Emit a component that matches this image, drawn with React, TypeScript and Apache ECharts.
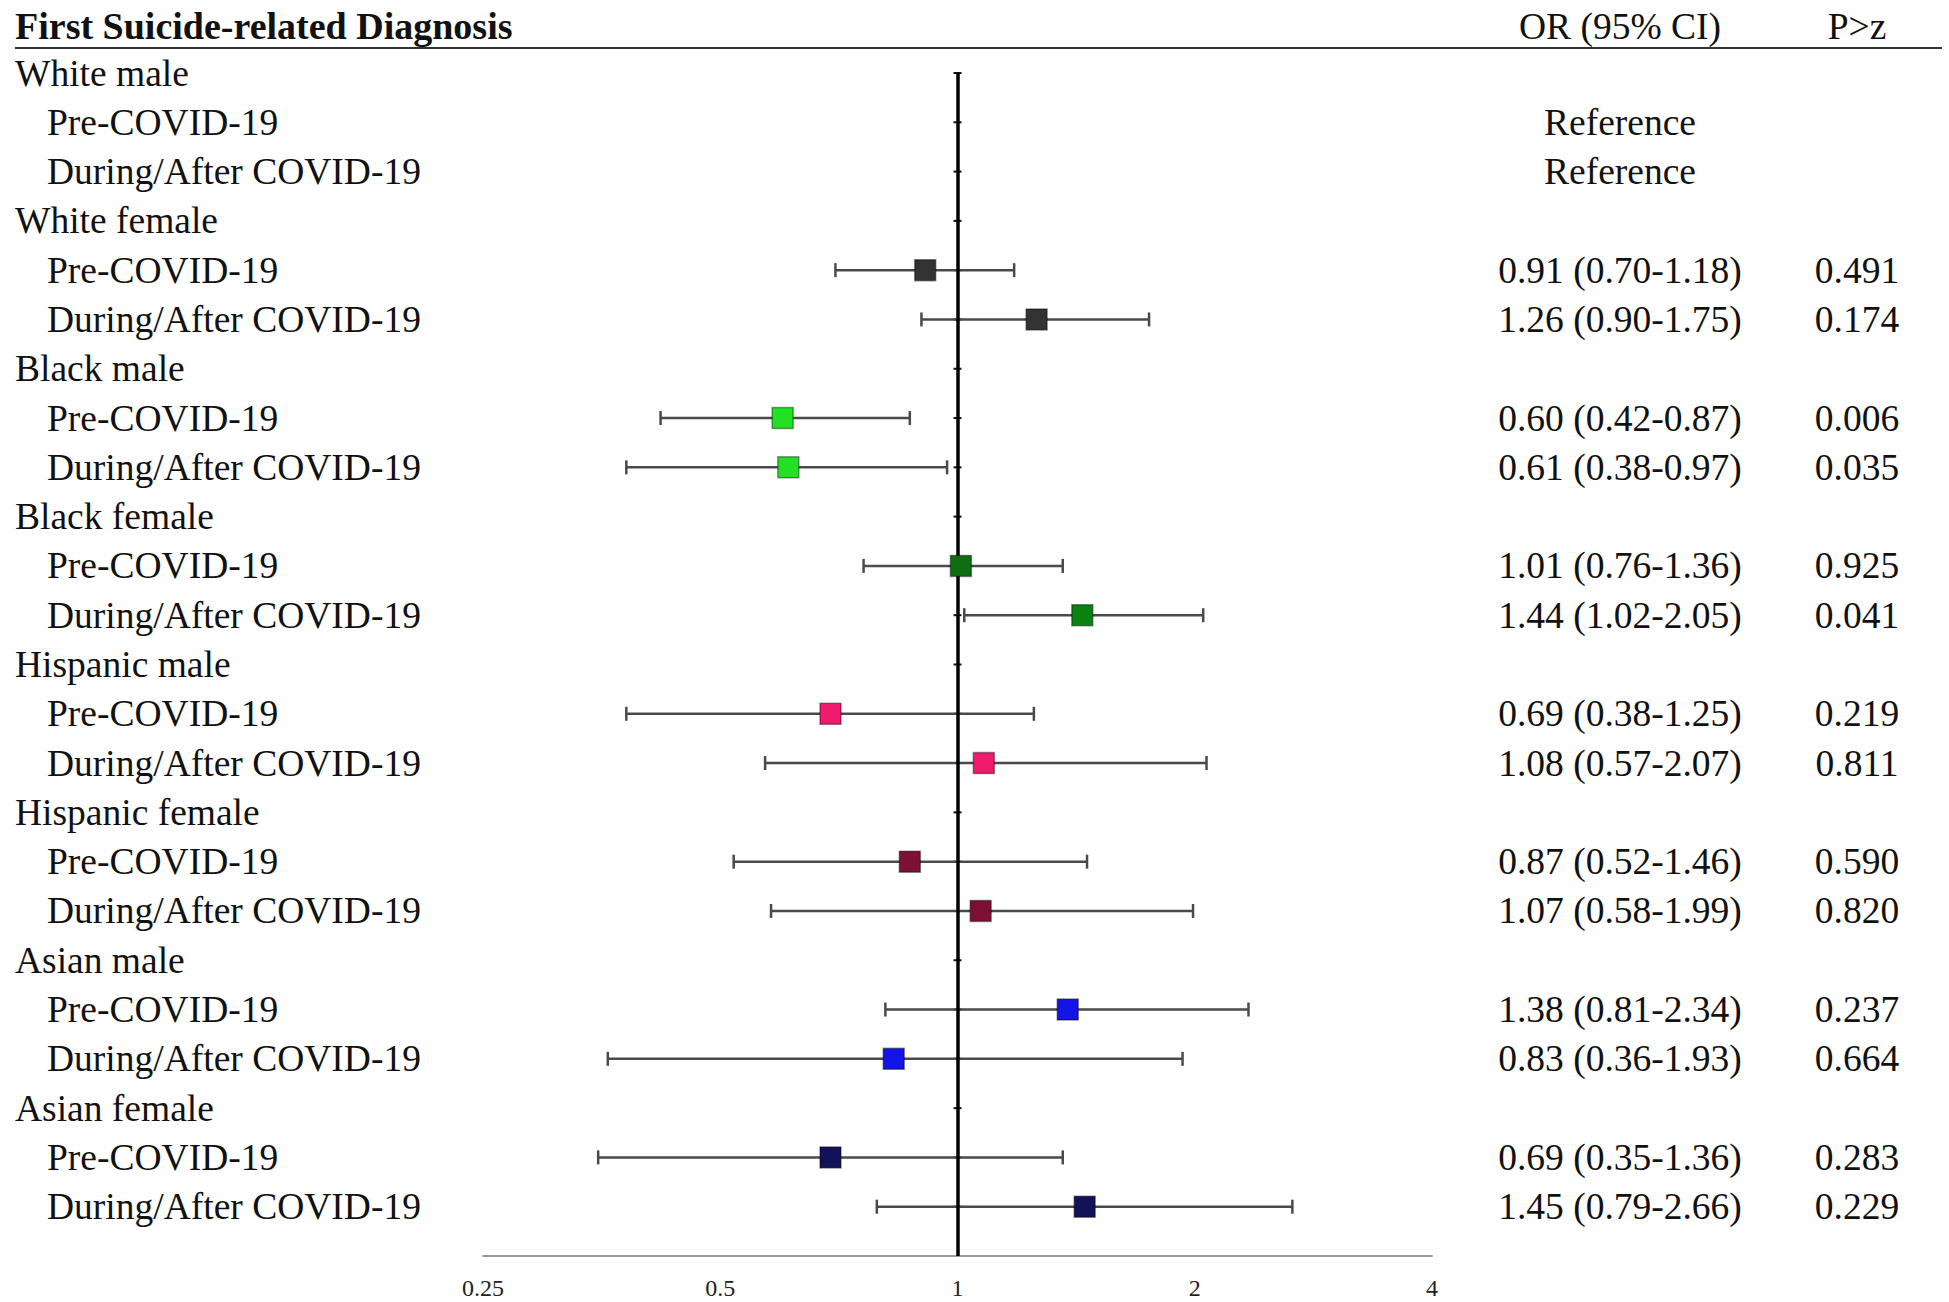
import React, { useEffect, useRef } from "react";
import * as echarts from "echarts";

const groups = [
  "White male",
  "White female",
  "Black male",
  "Black female",
  "Hispanic male",
  "Hispanic female",
  "Asian male",
  "Asian female",
];
const periods = ["Pre-COVID-19", "During/After COVID-19"];
// per group: [pre, during]; null = reference
const orValues = [null, null, 0.91, 1.26, 0.6, 0.61, 1.01, 1.44, 0.69, 1.08, 0.87, 1.07, 1.38, 0.83, 0.69, 1.45];
const ciLow = [null, null, 0.7, 0.9, 0.42, 0.38, 0.76, 1.02, 0.38, 0.57, 0.52, 0.58, 0.81, 0.36, 0.35, 0.79];
const ciHigh = [null, null, 1.18, 1.75, 0.87, 0.97, 1.36, 2.05, 1.25, 2.07, 1.46, 1.99, 2.34, 1.93, 1.36, 2.66];
const pValues = ["", "", "0.491", "0.174", "0.006", "0.035", "0.925", "0.041", "0.219", "0.811", "0.590", "0.820", "0.237", "0.664", "0.283", "0.229"];
const pointColors = [
  "#333333", "#333333",
  "#333333", "#333333",
  "#22e022", "#22e022",
  "#0f6e12", "#0a8212",
  "#f01a6e", "#f01a6e",
  "#7e1036", "#7e1036",
  "#1414e6", "#1414e6",
  "#12125a", "#12125a",
];
const xTicks = [0.25, 0.5, 1, 2, 4];

const FONT = "'Liberation Serif', 'Times New Roman', serif";

type Row = { group: string; sub: string; or: string; p: string; idx: number };

function buildRows(): Row[] {
  const rows: Row[] = [];
  groups.forEach((g, gi) => {
    rows.push({ group: g, sub: "", or: "", p: "", idx: -1 });
    periods.forEach((per, pi) => {
      const k = gi * 2 + pi;
      const o = orValues[k];
      const orText =
        o === null
          ? "Reference"
          : `${o.toFixed(2)} (${(ciLow[k] as number).toFixed(2)}-${(ciHigh[k] as number).toFixed(2)})`;
      rows.push({ group: "", sub: per, or: orText, p: pValues[k], idx: k });
    });
  });
  rows.push({ group: "", sub: "", or: "", p: "", idx: -1 });
  return rows;
}

export default function App() {
  const ref = useRef<HTMLDivElement>(null);
  useEffect(() => {
    if (!ref.current) return;
    const chart = echarts.init(ref.current, undefined, { renderer: "svg" });
    const rows = buildRows();
    const cats = rows.map((_, i) => String(i));

    const points: any[] = [];
    const bars: any[] = [];
    const ticks: any[] = [];
    rows.forEach((r, i) => {
      if (i < rows.length - 1) ticks.push([1, i]);
      if (r.idx >= 0 && orValues[r.idx] !== null) {
        points.push({ value: [orValues[r.idx], i], itemStyle: { color: pointColors[r.idx] } });
        bars.push([ciLow[r.idx], ciHigh[r.idx], i]);
      }
    });

    const gridLeft = 483;
    const gridRight = 1432;
    const labelStyle = { fontFamily: FONT, fontSize: 37.5, color: "#111" };
    const baseY = {
      type: "category",
      data: cats,
      inverse: true,
      boundaryGap: false,
      axisLine: { show: false },
      axisTick: { show: false },
      splitLine: { show: false },
    };

    chart.setOption({
      animation: false,
      backgroundColor: "#ffffff",
      grid: { left: gridLeft, right: 1949 - gridRight, top: 73, bottom: 1302 - 1256 },
      xAxis: {
        type: "log",
        logBase: 2,
        min: xTicks[0],
        max: xTicks[xTicks.length - 1],
        axisLine: { show: true, lineStyle: { color: "#9a9a9a", width: 2 } },
        axisTick: { show: false },
        splitLine: { show: false },
        minorTick: { show: false },
        axisLabel: {
          fontFamily: FONT,
          fontSize: 24,
          color: "#222",
          margin: 20,
          formatter: (v: number) => String(Math.round(v * 100) / 100),
        },
      },
      yAxis: [
        {
          ...baseY,
          position: "left",
          axisLabel: {
            ...labelStyle,
            interval: 0,
            align: "left",
            margin: gridLeft - 15,
            formatter: (_v: string, i: number) => rows[i].group,
          },
        },
        {
          ...baseY,
          position: "left",
          axisLabel: {
            ...labelStyle,
            interval: 0,
            align: "left",
            margin: gridLeft - 47,
            formatter: (_v: string, i: number) => rows[i].sub,
          },
        },
        {
          ...baseY,
          position: "right",
          axisLabel: {
            ...labelStyle,
            interval: 0,
            align: "center",
            margin: 1620 - gridRight,
            formatter: (_v: string, i: number) => rows[i].or,
          },
        },
        {
          ...baseY,
          position: "right",
          axisLabel: {
            ...labelStyle,
            interval: 0,
            align: "center",
            margin: 1857 - gridRight,
            formatter: (_v: string, i: number) => rows[i].p,
          },
        },
      ],
      graphic: [
        {
          type: "text",
          left: 15,
          top: 7,
          style: { text: "First Suicide-related Diagnosis", font: `bold 38px ${FONT}`, fill: "#111" },
        },
        {
          type: "text",
          x: 1620,
          y: 26,
          style: { text: "OR (95% CI)", font: `37.5px ${FONT}`, fill: "#111", textAlign: "center", textVerticalAlign: "middle" },
        },
        {
          type: "text",
          x: 1857,
          y: 26,
          style: { text: "P>z", font: `37.5px ${FONT}`, fill: "#111", textAlign: "center", textVerticalAlign: "middle" },
        },
        {
          type: "line",
          shape: { x1: 15, y1: 48, x2: 1942, y2: 48 },
          style: { stroke: "#333", lineWidth: 2 },
        },
      ],
      series: [
        {
          type: "scatter",
          yAxisIndex: 0,
          data: ticks,
          symbol: "rect",
          symbolSize: [8, 2],
          itemStyle: { color: "#111", opacity: 1 },
          z: 3,
          silent: true,
          markLine: {
            silent: true,
            symbol: "none",
            label: { show: false },
            lineStyle: { color: "#000", width: 3.5, type: "solid", opacity: 1 },
            data: [{ xAxis: 1 }],
          },
        },
        {
          type: "custom",
          yAxisIndex: 0,
          data: bars,
          encode: { x: [0, 1], y: 2 },
          z: 4,
          renderItem: (_params: any, api: any) => {
            const y = api.value(2);
            const a = api.coord([api.value(0), y]);
            const b = api.coord([api.value(1), y]);
            const h = 7;
            const st = { stroke: "#4a4a4a", lineWidth: 2.5 };
            return {
              type: "group",
              children: [
                { type: "line", shape: { x1: a[0], y1: a[1], x2: b[0], y2: b[1] }, style: st },
                { type: "line", shape: { x1: a[0], y1: a[1] - h, x2: a[0], y2: a[1] + h }, style: st },
                { type: "line", shape: { x1: b[0], y1: b[1] - h, x2: b[0], y2: b[1] + h }, style: st },
              ],
            };
          },
        },
        {
          type: "scatter",
          yAxisIndex: 0,
          data: points,
          symbol: "rect",
          symbolSize: 21,
          itemStyle: { borderColor: "rgba(0,0,0,0.4)", borderWidth: 1.5, opacity: 1 },
          z: 5,
        },
      ],
    });
    return () => chart.dispose();
  }, []);
  return (
    <div
      ref={ref}
      style={{ position: "fixed", left: 0, top: 0, width: 1949, height: 1302, background: "#fff" }}
    />
  );
}
